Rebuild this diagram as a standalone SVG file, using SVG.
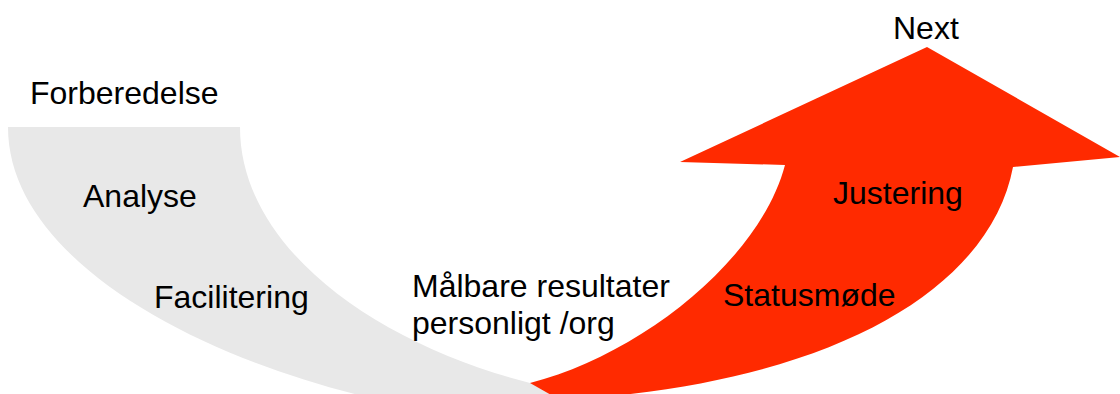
<svg xmlns="http://www.w3.org/2000/svg" width="1120" height="394" viewBox="0 0 1120 394">
<style>
text{font-family:"Liberation Sans",Arial,sans-serif;font-size:32px;fill:#000}
</style>
<rect width="1120" height="394" fill="#fff"/>
<g id="gray-band">
<path d="M8,127 L240,127 C240,250 380,345 530,383 L600,400 L380,400 C200,360 8,260 8,127 Z" fill="#E8E8E8"/>
</g>
<g id="red-arrow">
<path d="M530,383 C640,355 760,260 785,165 L680,162 L927,47 L1120,157 L1013,167 C990,290 830,385 560,400 Z" fill="#FF2A00"/>
</g>
<g id="labels">
<text x="893" y="39">Next</text>
<text x="30" y="104">Forberedelse</text>
<text x="83" y="207">Analyse</text>
<text x="154" y="308">Facilitering</text>
<text x="412" y="297">Målbare resultater</text>
<text x="412" y="334">personligt /org</text>
<text x="833" y="204">Justering</text>
<text x="723" y="306">Statusmøde</text>
</g>
</svg>
